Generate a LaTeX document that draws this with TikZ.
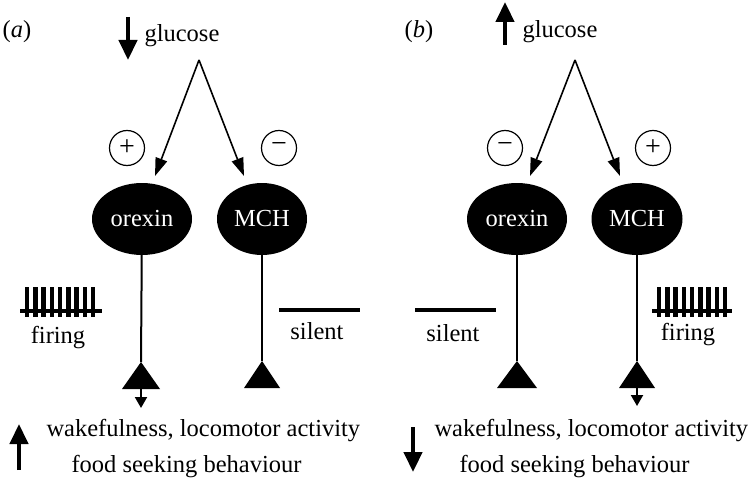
\documentclass[tikz,border=0pt]{standalone}
\usepackage{fontspec}
\setmainfont{Liberation Serif}
\usetikzlibrary{shapes.geometric,arrows.meta}

\begin{document}
\begin{tikzpicture}
	[
		x=1pt, y=-1pt,
		every node/.style = {font=\fontsize{24.5}{29}\selectfont},
		cell/.style = {ellipse, fill=black, text=white, inner sep=0pt, minimum height=72pt},
		sign/.style = {circle, draw=black, line width=1.2pt, minimum size=35pt, inner sep=0pt, font=\fontsize{28}{30}\selectfont},
		big/.style = {line width=4.5pt, -{Triangle[width=18pt,length=20pt]}},
		thin/.style = {line width=1.6pt, -{Triangle[width=12pt,length=18pt]}},
		effect/.style = {line width=2pt, -{Triangle[width=12pt,length=11pt]}},
		axon/.style = {line width=2pt},
		trace/.style = {line width=4pt},
		spike/.style = {line width=4.5pt},
	]

	\useasboundingbox (0,0) rectangle (751,481);

	% panel a
	\node (la) at ( 17, 32 ) {(\textit{a})};
	\coordinate (gaTop) at ( 128, 17 );
	\coordinate (gaBot) at ( 128, 60 );
	\draw[big] (gaTop) -- (gaBot);
	\node[anchor=west] (ga) at ( 141, 36 ) {glucose};
	\coordinate (aApex) at ( 199, 60 );
	\coordinate (aOrexTip) at ( 155, 176 );
	\coordinate (aMchTip) at ( 244, 176 );
	\draw[thin] (aApex) -- (aOrexTip);
	\draw[thin] (aApex) -- (aMchTip);
	\node[sign] (aPlus) at ( 127, 148 ) {+};
	\node[sign] (aMinus) at ( 279, 148 ) {−};
	\node[cell, minimum width=100pt] (aOrex) at ( 142, 219 ) {orexin};
	\node[cell, minimum width=90pt] (aMch) at ( 262, 219 ) {MCH};

	\coordinate (aOrexEnd) at ( 141, 362 );
	\coordinate (aMchEnd) at ( 262, 361 );
	\draw[axon] (aOrex) -- (aOrexEnd);
	\draw[axon] (aMch) -- (aMchEnd);
	\fill (aOrexEnd) -- ++(-19,27) -- ++(38,0) -- cycle;
	\fill (aMchEnd) -- ++(-18,27) -- ++(36,0) -- cycle;
	\coordinate (aOutTop) at ( 141, 388 );
	\coordinate (aOutBot) at ( 141, 408 );
	\draw[effect] (aOutTop) -- (aOutBot);

	\coordinate (aFireL) at ( 20, 311 );
	\coordinate (aFireR) at ( 102, 311 );
	\draw[trace] (aFireL) -- (aFireR);
	\foreach \k in {0,...,8}
	\draw[spike] (27+\k*8.25, 287) -- (27+\k*8.25, 317);
	\node (aFiring) at ( 58, 338 ) {firing};
	\coordinate (aSilL) at ( 279, 310 );
	\coordinate (aSilR) at ( 360, 310 );
	\draw[trace] (aSilL) -- (aSilR);
	\node (aSilent) at ( 317, 331 ) {silent};

	\coordinate (aUpBot) at ( 19, 470 );
	\coordinate (aUpTop) at ( 19, 424 );
	\draw[big] (aUpBot) -- (aUpTop);
	\node[anchor=west] (aWake) at ( 43, 431 ) {wakefulness, locomotor activity};
	\node[anchor=west] (aFood) at ( 68, 467 ) {food seeking behaviour};

	% panel b
	\node (lb) at ( 419, 32 ) {(\textit{b})};
	\coordinate (gbBot) at ( 505, 45 );
	\coordinate (gbTop) at ( 505, 2 );
	\draw[big] (gbBot) -- (gbTop);
	\node[anchor=west] (gb) at ( 519, 32 ) {glucose};
	\coordinate (bApex) at ( 575, 60 );
	\coordinate (bOrexTip) at ( 530, 176 );
	\coordinate (bMchTip) at ( 620, 176 );
	\draw[thin] (bApex) -- (bOrexTip);
	\draw[thin] (bApex) -- (bMchTip);
	\node[sign] (bMinus) at ( 505, 148 ) {−};
	\node[sign] (bPlus) at ( 653, 148 ) {+};
	\node[cell, minimum width=100pt] (bOrex) at ( 517, 219 ) {orexin};
	\node[cell, minimum width=91pt] (bMch) at ( 637, 219 ) {MCH};

	\coordinate (bOrexEnd) at ( 517, 361 );
	\coordinate (bMchEnd) at ( 637, 361 );
	\draw[axon] (bOrex) -- (bOrexEnd);
	\draw[axon] (bMch) -- (bMchEnd);
	\fill (bOrexEnd) -- ++(-20,27) -- ++(40,0) -- cycle;
	\fill (bMchEnd) -- ++(-18,27) -- ++(36,0) -- cycle;
	\coordinate (bOutTop) at ( 637, 388 );
	\coordinate (bOutBot) at ( 637, 406 );
	\draw[effect] (bOutTop) -- (bOutBot);

	\coordinate (bSilL) at ( 415, 310 );
	\coordinate (bSilR) at ( 496, 310 );
	\draw[trace] (bSilL) -- (bSilR);
	\node (bSilent) at ( 453, 333 ) {silent};
	\coordinate (bFireL) at ( 652, 311 );
	\coordinate (bFireR) at ( 732, 311 );
	\draw[trace] (bFireL) -- (bFireR);
	\foreach \k in {0,...,8}
	\draw[spike] (659+\k*8.25, 287) -- (659+\k*8.25, 317);
	\node (bFiring) at ( 688, 335 ) {firing};

	\coordinate (bDnTop) at ( 413, 427 );
	\coordinate (bDnBot) at ( 413, 472 );
	\draw[big] (bDnTop) -- (bDnBot);
	\node[anchor=west] (bWake) at ( 431, 431 ) {wakefulness, locomotor activity};
	\node[anchor=west] (bFood) at ( 456, 467 ) {food seeking behaviour};

	\end{tikzpicture}
\end{document}
